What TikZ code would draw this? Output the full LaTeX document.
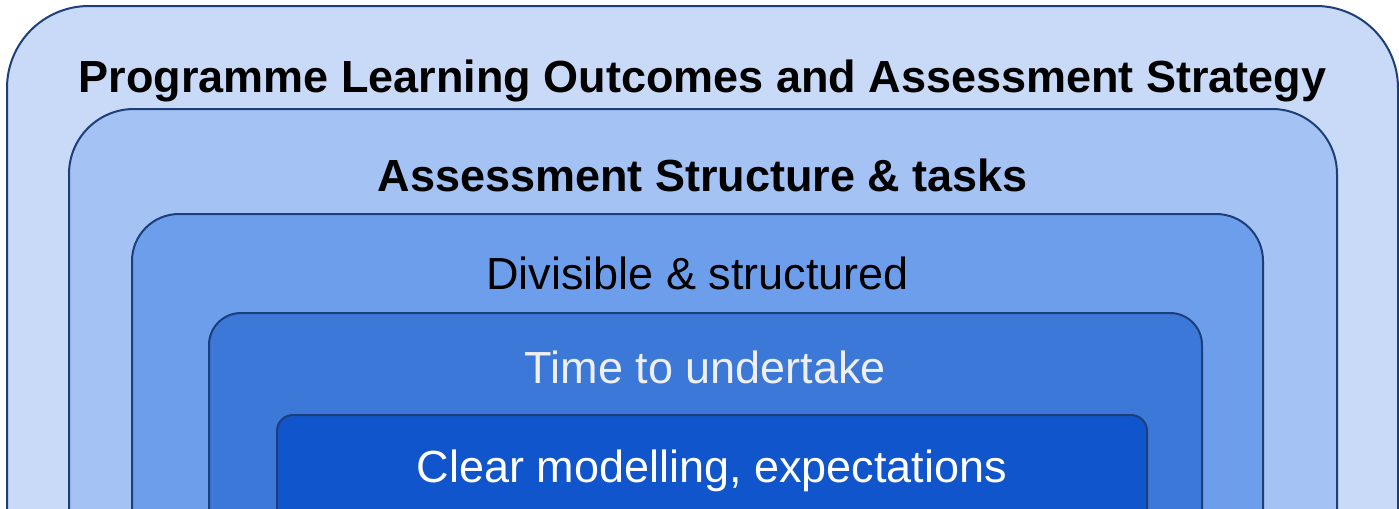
\documentclass[tikz,border=0pt]{standalone}
\usepackage{fontspec}
\setmainfont{Liberation Sans}
\usepackage{xcolor}
\usepackage{tikz}
\usetikzlibrary{positioning}
\definecolor{layerone}{HTML}{C9DAF8}
\definecolor{layertwo}{HTML}{A4C2F4}
\definecolor{layerthree}{HTML}{6D9EEB}
\definecolor{layerfour}{HTML}{3C78D8}
\definecolor{layerfive}{HTML}{1155CC}
\definecolor{layeredge}{HTML}{1C3F7A}
\definecolor{softwhite}{HTML}{EFEFEF}

\begin{document}
\begin{tikzpicture}[
    x=0.5pt, y=-0.5pt,
    layer/.style={
        rectangle,
        draw=layeredge,
        line width=1pt,
        anchor=north,
        inner sep=0pt,
        minimum height=300pt
    },
    caption/.style={
        anchor=base,
        inner sep=0pt,
        font=\fontsize{22.5}{27}\selectfont
    }
]
\useasboundingbox (0,0) rectangle (1399,509);
\clip (0,0) rectangle (1399,509);

% Nested layers, outermost first
\node[layer, fill=layerone, minimum width=695.5pt, rounded corners=41pt] (strategy) at (702.5,5) {};
\node[layer, fill=layertwo, minimum width=634pt, rounded corners=32.5pt] (structure) at (703,108) {};
\node[layer, fill=layerthree, minimum width=565.5pt, rounded corners=23.5pt] (divisible) at (697.5,213) {};
\node[layer, fill=layerfour, minimum width=496.5pt, rounded corners=16pt] (time) at (705.5,312) {};
\node[layer, fill=layerfive, minimum width=435pt, rounded corners=8pt] (modelling) at (712,414) {};

% Labels at the top of each layer
\node[caption, font=\fontsize{22.5}{27}\selectfont\bfseries] (strategytext) at ([yshift=-43.5pt]strategy.north) {Programme Learning Outcomes and Assessment Strategy};
\node[caption, font=\fontsize{22.5}{27}\selectfont\bfseries] (structuretext) at ([yshift=-41.5pt]structure.north) {Assessment Structure \& tasks};
\node[caption] (divisibletext) at ([yshift=-38pt]divisible.north) {Divisible \& structured};
\node[caption, text=softwhite] (timetext) at ([yshift=-35.5pt]time.north) {Time to undertake};
\node[caption, text=white] (modellingtext) at ([yshift=-34pt]modelling.north) {Clear modelling, expectations};

\end{tikzpicture}
\end{document}
